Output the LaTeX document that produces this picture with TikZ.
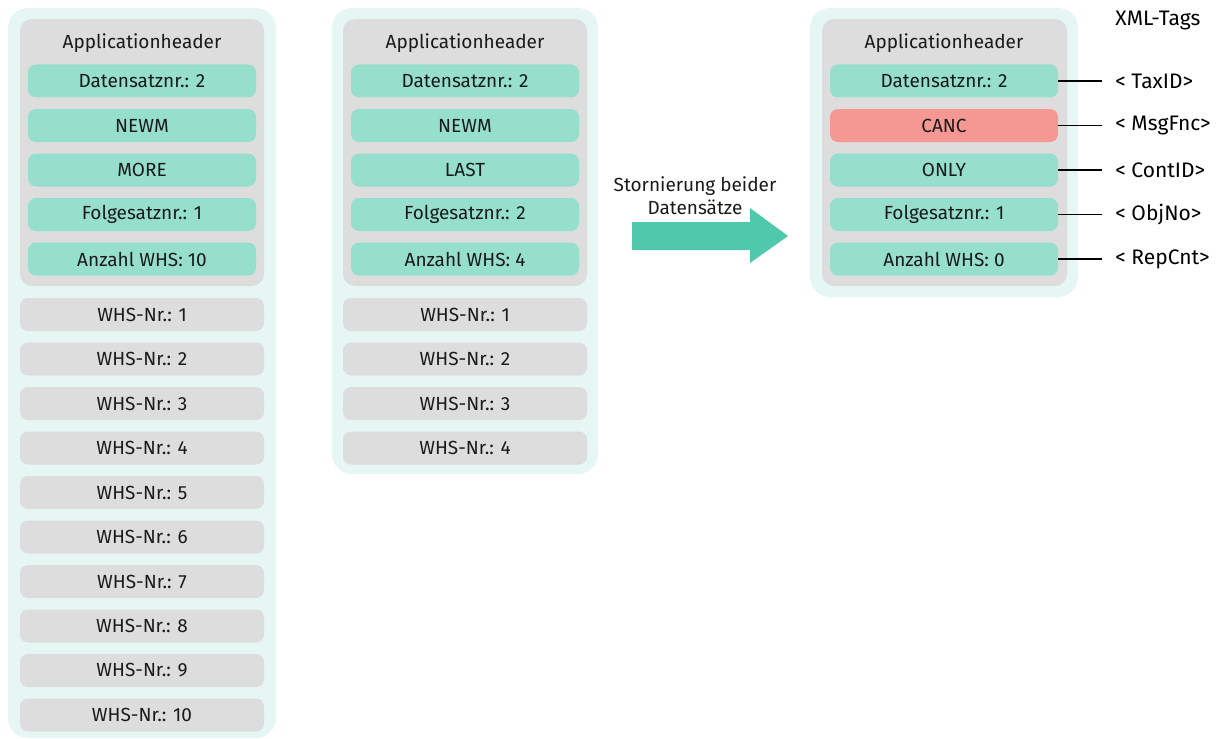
\documentclass[tikz,border=0pt]{standalone}
\usepackage{fontspec}
\setmainfont{Fira Sans}
\usetikzlibrary{positioning}
\definecolor{panelbg}{HTML}{E6F7F3}
\definecolor{boxgray}{HTML}{DDDDDD}
\definecolor{fieldteal}{HTML}{95DFCC}
\definecolor{cancred}{HTML}{F59894}
\definecolor{arrowteal}{HTML}{50C8AB}
\definecolor{txt}{HTML}{1A1A1A}

\begin{document}
\begin{tikzpicture}[x=0.5pt,y=-0.5pt,
    every node/.style={font=\fontsize{9.5}{11.5}\selectfont, text=txt},
    panel/.style={fill=panelbg, rounded corners=10pt},
    headerbg/.style={fill=boxgray, rounded corners=6pt},
    field/.style={fill=fieldteal, rounded corners=4pt, minimum width=114pt, minimum height=16.5pt, inner sep=0pt},
    cancfield/.style={field, fill=cancred},
    whsbox/.style={fill=boxgray, rounded corners=4pt, minimum width=122pt, minimum height=16.5pt, inner sep=0pt},
    tag/.style={anchor=west, inner xsep=6.5pt, inner ysep=0pt, font=\fontsize{10.5}{12}\selectfont, text=black}]
    \useasboundingbox (0,0) rectangle (1224,738);
    % hintergruende
    \fill[panel] (8,8) rectangle (276,738);
    \fill[panel] (332,8) rectangle (598,474);
    \fill[panel] (810,8) rectangle (1078,297);
    \fill[headerbg] (20,19) rectangle (264,286);
    \fill[headerbg] (343,19) rectangle (587,286);
    \fill[headerbg] (822,19) rectangle (1067,286);

    % linke Spalte: 10 WHS
    \node (lhead) at (142,43) {Applicationheader};
    \foreach \t [count=\i] in {Datensatznr.: 2, NEWM, MORE, Folgesatznr.: 1, Anzahl WHS: 10}
        \node[field] (l\i) at (142,{81+44.5*(\i-1)}) {\t};
    \foreach \i in {1,...,10}
        \node[whsbox] (lw\i) at (142,{314.5+44.5*(\i-1)}) {WHS-Nr.: \i};

    % mittlere Spalte: 4 WHS
    \node (mhead) at (465,43) {Applicationheader};
    \foreach \t [count=\i] in {Datensatznr.: 2, NEWM, LAST, Folgesatznr.: 2, Anzahl WHS: 4}
        \node[field] (m\i) at (465,{81+44.5*(\i-1)}) {\t};
    \foreach \i in {1,...,4}
        \node[whsbox] (mw\i) at (465,{314.5+44.5*(\i-1)}) {WHS-Nr.: \i};

    % Pfeil
    \fill[arrowteal] (632,222) -- (750,222) -- (750,208) -- (788,236)
        -- (750,263) -- (750,250) -- (632,250) -- cycle;
    \node[align=center] (storno) at (695,196) {Stornierung beider\\Datensätze};

    % rechte Spalte: Storno
    \node (rhead) at (944,43) {Applicationheader};
    \node[field] (r1) at (944,81) {Datensatznr.: 2};
    \node[cancfield] (r2) at (944,125.5) {CANC};
    \node[field] (r3) at (944,170) {ONLY};
    \node[field] (r4) at (944,214.5) {Folgesatznr.: 1};
    \node[field] (r5) at (944,259) {Anzahl WHS: 0};

    \node[tag, anchor=west, inner sep=0pt] (xmltags) at (1115,21) {XML-Tags};
    \foreach \t [count=\i] in {TaxID, MsgFnc, ContID, ObjNo, RepCnt} {
        \node[tag] (t\i) at (1102,{81+44.5*(\i-1)}) {< \t>};
        \draw[line width=0.75pt] (r\i.east) -- (t\i.west);
    }
\end{tikzpicture}
\end{document}
